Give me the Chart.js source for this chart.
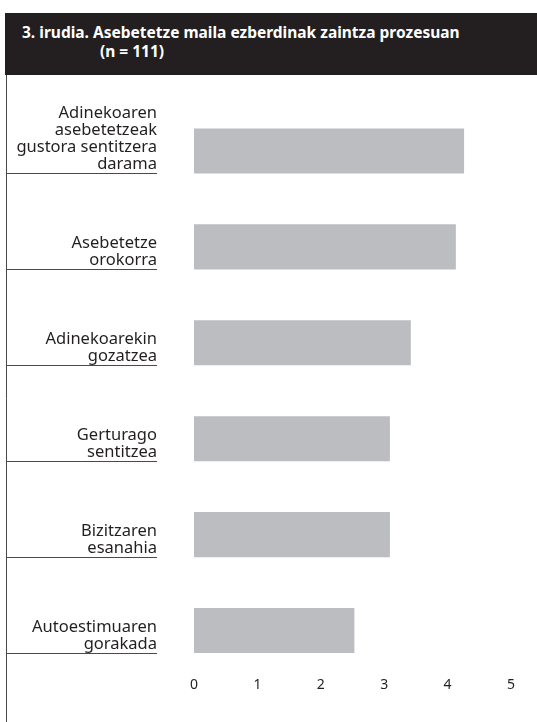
<!DOCTYPE html>
<html>
<head>
<meta charset="utf-8">
<script src="https://cdn.jsdelivr.net/npm/chart.js@4/dist/chart.umd.min.js"></script>
<style>
  html, body { margin: 0; padding: 0; background: #ffffff; }
  #wrap { position: relative; width: 537px; height: 722px; overflow: hidden; }
  #chart { position: absolute; left: 0; top: 0; }
  #header {
    position: absolute; left: 5px; top: 13px; width: 532px; height: 62px;
    background: #231f20; color: #ffffff;
    font-family: "Noto Sans", sans-serif; font-weight: bold; font-size: 15.5px;
    line-height: 21px;
  }
  #header .l1 { position: absolute; left: 17px; top: 9px; white-space: nowrap; }
  #header .l2 { position: absolute; left: 95px; top: 28px; white-space: nowrap; }
</style>
</head>
<body>
<div id="wrap">
  <canvas id="chart" width="537" height="722"></canvas>
  <div id="header">
    <div class="l1">3. irudia. Asebetetze maila ezberdinak zaintza prozesuan</div>
    <div class="l2">(n = 111)</div>
  </div>
</div>
<script>
// Satisfaction items (multi-line labels) and their mean scores
const categories = [
  ["Adinekoaren", "asebetetzeak", "gustora sentitzera", "darama"],
  ["Asebetetze", "orokorra"],
  ["Adinekoarekin", "gozatzea"],
  ["Gerturago", "sentitzea"],
  ["Bizitzaren", "esanahia"],
  ["Autoestimuaren", "gorakada"]
];
const values = [4.26, 4.13, 3.42, 3.09, 3.09, 2.53];
const tickValues = [0, 1, 2, 3, 4, 5];

const TEXT = '#231f20';
const BAR = '#bcbdc0';
const RULE = '#4a4a4a';

// Right-aligned category labels sitting on a rule at each bar's bottom edge,
// plus the frame line on the left.
const labelPlugin = {
  id: 'labelRules',
  afterDraw(chart) {
    const ctx = chart.ctx;
    const meta = chart.getDatasetMeta(0);
    const right = chart.chartArea.left - 37;
    ctx.save();
    ctx.strokeStyle = RULE;
    ctx.lineWidth = 1;
    ctx.beginPath();
    ctx.moveTo(6.5, 75);
    ctx.lineTo(6.5, 722);
    ctx.stroke();
    ctx.font = '16.5px "Noto Sans", sans-serif';
    ctx.fillStyle = TEXT;
    ctx.textAlign = 'right';
    ctx.textBaseline = 'alphabetic';
    meta.data.forEach((el, i) => {
      const bottom = Math.round(el.y + el.height / 2);
      ctx.beginPath();
      ctx.moveTo(6, bottom + 0.5);
      ctx.lineTo(right, bottom + 0.5);
      ctx.stroke();
      const lines = categories[i];
      for (let k = 0; k < lines.length; k++) {
        const y = bottom - 4 - (lines.length - 1 - k) * 17;
        ctx.fillText(lines[k], right, y);
      }
    });
    ctx.restore();
  }
};

new Chart(document.getElementById('chart'), {
  type: 'bar',
  data: {
    labels: categories.map(c => c.join(' ')),
    datasets: [{
      data: values,
      backgroundColor: BAR,
      borderWidth: 0,
      barPercentage: 0.47,
      categoryPercentage: 1
    }]
  },
  options: {
    indexAxis: 'y',
    responsive: false,
    animation: false,
    layout: { padding: { top: 103, right: 26, left: 0, bottom: 0 } },
    plugins: { legend: { display: false }, tooltip: { enabled: false } },
    scales: {
      x: {
        min: tickValues[0],
        max: tickValues[tickValues.length - 1],
        afterBuildTicks(scale) { scale.ticks = tickValues.map(v => ({ value: v })); },
        grid: { display: false, drawTicks: false },
        border: { display: false },
        ticks: {
          padding: -2,
          color: TEXT,
          font: { family: '"Noto Sans", sans-serif', size: 14 }
        },
        afterFit(scale) { scale.height = 43.5; }
      },
      y: {
        grid: { display: false, drawTicks: false },
        border: { display: false },
        ticks: { display: false },
        afterFit(scale) { scale.width = 194; }
      }
    }
  },
  plugins: [labelPlugin]
});
</script>
</body>
</html>
